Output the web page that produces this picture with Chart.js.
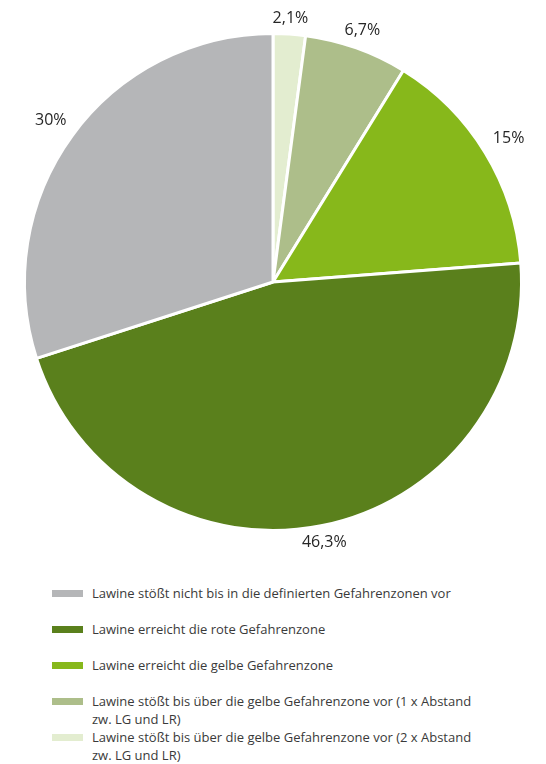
<!DOCTYPE html>
<html lang="de">
<head>
<meta charset="utf-8">
<title>Lawinen und Gefahrenzonen</title>
<script src="https://cdn.jsdelivr.net/npm/chart.js@4.4.1/dist/chart.umd.min.js"></script>
<style>
  html, body { margin: 0; padding: 0; background: #fff; }
  body { width: 546px; height: 764px; overflow: hidden; font-family: "Open Sans", Lato, sans-serif; color: #3a3a3a; }
  #wrap { position: relative; width: 546px; height: 564px; }
  #legende { position: absolute; left: 52px; top: 584px; width: 440px; font-size: 13px; line-height: 18px; }
  .item { position: relative; padding-left: 40px; }
  .item .box { position: absolute; left: 0; top: 6px; width: 31px; height: 7px; }
</style>
</head>
<body>
<div id="wrap"><canvas id="kuchen"></canvas></div>
<div id="legende"></div>
<script>
// Segmente im Uhrzeigersinn ab 12 Uhr
var kategorien = [
    'Lawine stößt bis über die gelbe Gefahrenzone vor (2 x Abstand zw. LG und LR)',
    'Lawine stößt bis über die gelbe Gefahrenzone vor (1 x Abstand zw. LG und LR)',
    'Lawine erreicht die gelbe Gefahrenzone',
    'Lawine erreicht die rote Gefahrenzone',
    'Lawine stößt nicht bis in die definierten Gefahrenzonen vor'
];
var anteile = [2.1, 6.7, 15, 46.3, 30];
var beschriftung = ['2,1%', '6,7%', '15%', '46,3%', '30%'];
var farben = ['#e3edd0', '#adbe8a', '#87b81b', '#5a801c', '#b5b6b8'];

// Reihenfolge in der Legende (Index in den Arrays oben)
var legendeReihenfolge = [4, 3, 2, 1, 0];
var legendeAbstand = [0, 18, 18, 18, 0];

// Prozentwerte außerhalb des Kreises
var aussenLabels = {
    id: 'aussenLabels',
    afterDatasetsDraw: function(chart) {
        var ctx = chart.ctx;
        var meta = chart.getDatasetMeta(0);
        ctx.save();
        ctx.font = '16px "Open Sans", Lato, sans-serif';
        ctx.fillStyle = '#262626';
        ctx.textAlign = 'center';
        ctx.textBaseline = 'middle';
        meta.data.forEach(function(arc, i) {
            var mitte = (arc.startAngle + arc.endAngle) / 2;
            var text = beschriftung[i];
            var halbeBreite = ctx.measureText(text).width / 2;
            var r = arc.outerRadius + 16 + halbeBreite * Math.abs(Math.cos(mitte)) * Math.abs(Math.cos(mitte));
            ctx.fillText(text, arc.x + Math.cos(mitte) * r, arc.y + Math.sin(mitte) * r);
        });
        ctx.restore();
    }
};

var ctx = document.getElementById('kuchen').getContext('2d');
var kuchen = new Chart(ctx, {
    type: 'pie',
    data: {
        labels: kategorien,
        datasets: [{
            data: anteile,
            backgroundColor: farben,
            borderColor: '#ffffff',
            borderWidth: 3
        }]
    },
    options: {
        responsive: true,
        maintainAspectRatio: false,
        animation: false,
        layout: { padding: { top: 32, bottom: 32, left: 23, right: 23 } },
        plugins: {
            legend: { display: false },
            tooltip: { enabled: false }
        }
    },
    plugins: [aussenLabels]
});

// Legende als HTML
var legende = document.getElementById('legende');
legendeReihenfolge.forEach(function(idx, n) {
    var item = document.createElement('div');
    item.className = 'item';
    item.style.marginTop = (n === 0 ? 0 : legendeAbstand[n]) + 'px';
    item.innerHTML = '<span class="box" style="background:' + farben[idx] + '"></span>' + kategorien[idx];
    legende.appendChild(item);
});
</script>
</body>
</html>
